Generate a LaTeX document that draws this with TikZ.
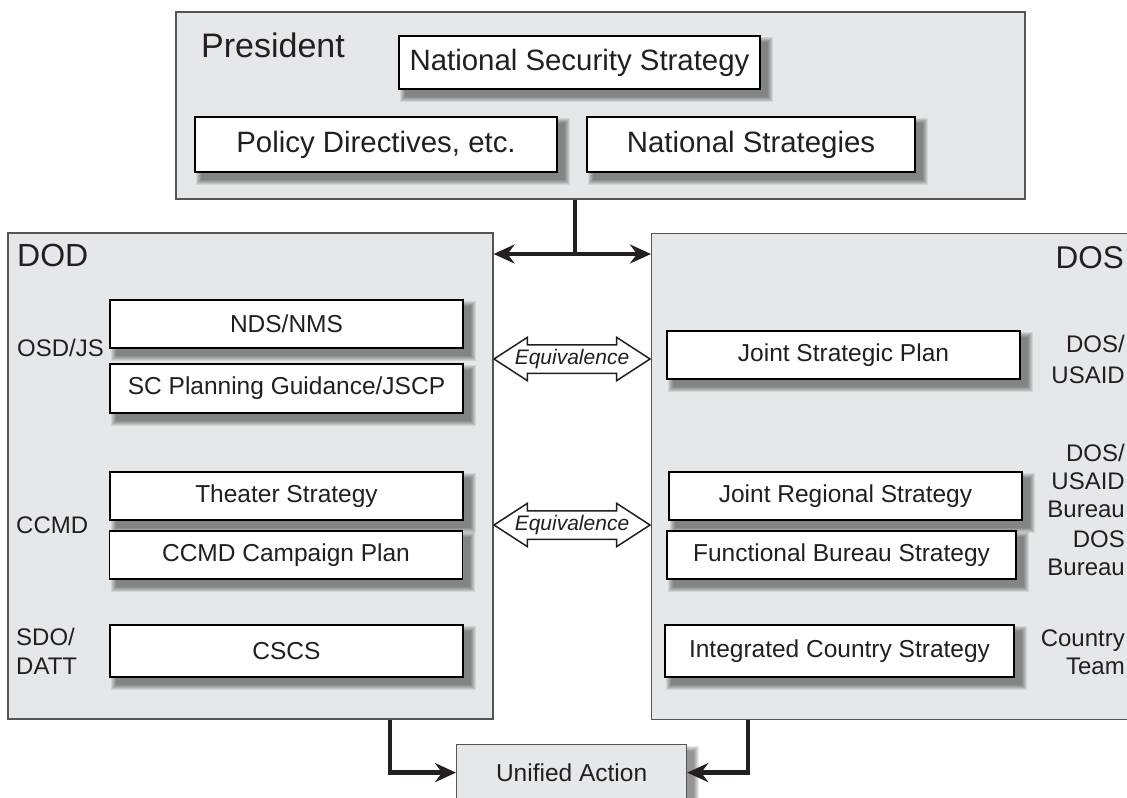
\documentclass[tikz,border=0pt]{standalone}
\usepackage{fontspec}
\setmainfont{Liberation Sans}
\usetikzlibrary{arrows.meta,shapes.arrows}
\pgfdeclarelayer{bg}
\pgfdeclarelayer{shadow}
\pgfsetlayers{bg,shadow,main}
\definecolor{boxgray}{RGB}{230,231,232}
\definecolor{edgegray}{RGB}{85,85,85}
\definecolor{ink}{RGB}{35,31,32}
\newcommand{\fsz}[2]{\fontsize{#1}{#2}\selectfont}
\begin{document}
\begin{tikzpicture}[x=1bp,y=-1bp,
 >={Stealth[length=21bp,width=19bp,inset=7bp]},
 outerbox/.style={rectangle,draw=edgegray,fill=boxgray,line width=1.2bp,inner sep=0pt},
 inbox/.style={rectangle,draw=black,fill=white,line width=1.6bp,inner sep=0pt,minimum height=48bp,minimum width=353bp,font=\fsz{24.5bp}{29bp},text=ink},
 bigbox/.style={inbox,font=\fsz{29.4bp}{34bp}},
 lbl/.style={inner sep=0pt,font=\fsz{24bp}{28bp},text=ink},
 title/.style={inner sep=0pt,text=ink},
 conn/.style={line width=4.5bp,draw=ink},
 equiv/.style={double arrow,draw=ink,fill=white,line width=1.5bp,font=\fsz{21bp}{25bp}\itshape,text=ink,minimum height=156bp,double arrow head extend=7.5bp,double arrow tip angle=66,inner xsep=-11.5bp,inner ysep=3.75bp,text height=15bp,text depth=4.5bp}
]
\useasboundingbox (0,0) rectangle (1127,798);

\begin{pgfonlayer}{bg}
\node[outerbox,minimum width=849bp,minimum height=187bp] (pres) at (600.5,105.5) {};
\node[outerbox,minimum width=485bp,minimum height=486bp] (dod) at (250.5,476) {};
\node[outerbox,minimum width=494bp,minimum height=486bp,anchor=north west] (dos) at (651,233) {};
\end{pgfonlayer}

% titles
\node[title,anchor=west,font=\fsz{34bp}{40bp}] (prest) at (201,45) {President};
\node[title,anchor=west,font=\fsz{32bp}{38bp}] (dodt) at (17,255) {DOD};
\node[title,anchor=east,font=\fsz{31.5bp}{38bp}] (dost) at (1124,258) {DOS};

% president boxes
\node[bigbox,minimum width=361bp,minimum height=53bp] (nss) at (579.5,62.5) {National Security Strategy};
\node[bigbox,minimum width=362bp,minimum height=55bp] (pol) at (376,144.5) {Policy Directives, etc.};
\node[bigbox,minimum width=328bp,minimum height=55bp] (nst) at (751,144.5) {National Strategies};

% DOD boxes
\node[inbox] (nds) at (286.5,324) {NDS/NMS};
\node[inbox,minimum height=49bp] (scp) at (286.5,388.5) {SC Planning Guidance/JSCP};
\node[inbox] (ths) at (286.5,496) {Theater Strategy};
\node[inbox] (ccp) at (286,555) {CCMD Campaign Plan};
\node[inbox,minimum height=52bp] (cscs) at (286.5,651) {CSCS};

% DOS boxes
\node[inbox] (jsp) at (843.5,355) {Joint Strategic Plan};
\node[inbox] (jrs) at (845.5,496) {Joint Regional Strategy};
\node[inbox,minimum width=349bp] (fbs) at (841.5,555) {Functional Bureau Strategy};
\node[inbox,minimum width=349bp,minimum height=52bp] (ics) at (839.5,651) {Integrated Country Strategy};

% left labels
\node[lbl,anchor=west] (osd) at (17,348) {OSD/JS};
\node[lbl,anchor=west] (ccmd) at (16,525) {CCMD};
\node[lbl,anchor=west,align=left,font=\fsz{24bp}{29bp}] (sdo) at (16,651.5) {SDO/\\DATT};

% right labels
\node[lbl,anchor=east,align=right,font=\fsz{24bp}{31bp}] (usaid1) at (1125,359) {DOS/\\USAID};
\node[lbl,anchor=east,align=right] (usaid2) at (1125,481) {DOS/\\USAID\\Bureau};
\node[lbl,anchor=east,align=right] (dosb) at (1125,553) {DOS\\Bureau};
\node[lbl,anchor=east,align=right] (ct) at (1125,652) {Country\\Team};

% equivalence arrows
\node[equiv] (eq1) at (572,359) {Equivalence};
\node[equiv] (eq2) at (572,525) {Equivalence};

% unified action
\node[outerbox,minimum width=230bp,minimum height=56bp,anchor=north west,font=\fsz{24.5bp}{29bp},text=ink] (ua) at (456,744) {Unified Action};

% shadows
\begin{pgfonlayer}{shadow}
\foreach \n in {nss,pol,nst,nds,scp,ths,ccp,cscs,jsp,jrs,fbs,ics,ua}{
  \foreach \e in {0,1,2,3,4,5}{
    \fill[black,opacity=0.085] ([shift={(7-\e,7-\e)}]\n.north west) rectangle ([shift={(7+\e,7+\e)}]\n.south east);
  }
}
\end{pgfonlayer}

% connectors
\coordinate (j) at (575,254);
\draw[conn] (pres.south -| j) -- (j);
\draw[conn,<->] (dod.east |- j) -- (dos.west |- j);
\coordinate (dodout) at (390,0);
\coordinate (dosout) at (748,0);
\draw[conn,->] (dod.south -| dodout) |- (ua.west);
\draw[conn,->] (dos.south -| dosout) |- (ua.east);
\end{tikzpicture}
\end{document}
